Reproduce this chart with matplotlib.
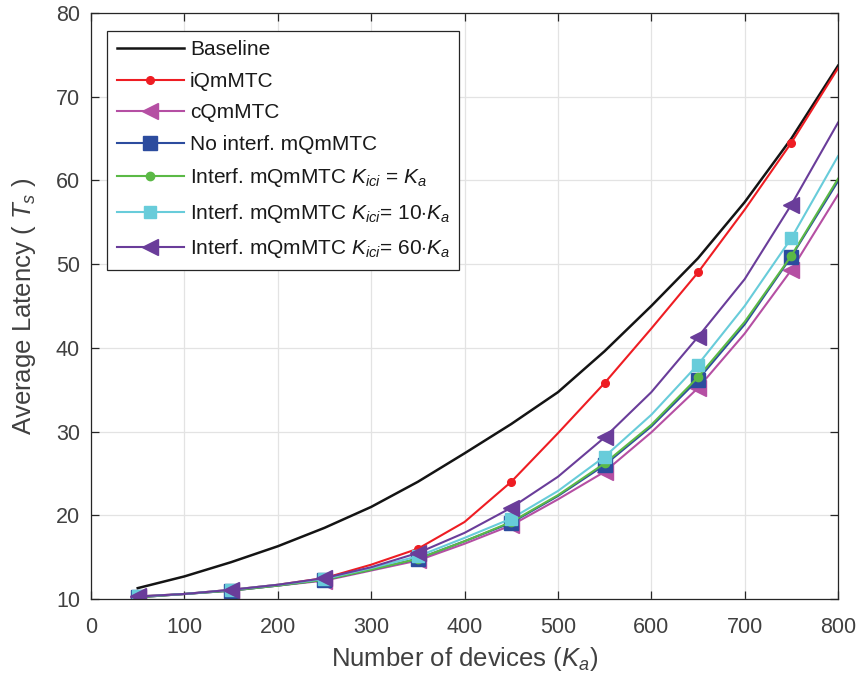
import matplotlib

matplotlib.use("Agg")
import matplotlib.pyplot as plt

plt.rcParams.update({
    "font.family": "Liberation Sans",
    "mathtext.fontset": "custom",
    "mathtext.rm": "Liberation Sans",
    "mathtext.it": "Liberation Sans:italic",
    "mathtext.bf": "Liberation Sans:bold",
})

# number of active devices K_a
devices = [50, 100, 150, 200, 250, 300, 350, 400, 450, 500, 550, 600, 650, 700, 750, 800]

# average latency in slots T_s
baseline = [11.3, 12.7, 14.4, 16.3, 18.5, 21.0, 24.0, 27.4, 30.9, 34.7, 39.6, 45.0, 50.7, 57.4, 65.0, 73.7]
iqmmtc = [10.3, 10.6, 11.1, 11.7, 12.5, 14.1, 16.0, 19.2, 24.0, 29.8, 35.8, 42.3, 49.0, 56.5, 64.5, 73.4]
cqmmtc = [10.2, 10.6, 11.0, 11.6, 12.2, 13.4, 14.6, 16.6, 18.8, 21.9, 25.2, 29.9, 35.2, 41.7, 49.3, 58.3]
no_interf = [10.2, 10.6, 11.0, 11.6, 12.3, 13.5, 14.8, 16.9, 19.1, 22.3, 26.0, 30.6, 36.2, 42.8, 50.9, 59.9]
interf_1 = [10.2, 10.6, 11.0, 11.6, 12.3, 13.5, 14.8, 16.9, 19.2, 22.4, 26.2, 30.8, 36.5, 43.1, 51.0, 60.2]
interf_10 = [10.3, 10.6, 11.1, 11.7, 12.4, 13.7, 15.1, 17.3, 19.6, 22.9, 27.0, 32.0, 38.0, 45.0, 53.1, 62.9]
interf_60 = [10.3, 10.6, 11.1, 11.7, 12.5, 13.8, 15.5, 17.9, 20.9, 24.6, 29.3, 34.7, 41.3, 48.2, 57.1, 66.9]

AX_COLOR = "#262626"
TICK_COLOR = "#404040"

fig = plt.figure(figsize=(8.59, 6.81), dpi=100, facecolor="white")
ax = fig.add_axes([0.106, 0.1204, 0.8696, 0.8606])

ax.plot(devices, baseline, color="#141414", lw=1.8, label="Baseline")
ax.plot(devices, iqmmtc, color="#EE1D23", lw=1.5, marker="o", ms=5.5, markevery=2,
        label="iQmMTC")
ax.plot(devices, cqmmtc, color="#B54FA3", lw=1.5, marker="<", ms=11, markevery=2,
        label="cQmMTC")
ax.plot(devices, no_interf, color="#2C4C9E", lw=1.5, marker="s", ms=10, markevery=2,
        label="No interf. mQmMTC")
ax.plot(devices, interf_1, color="#5BB946", lw=1.5, marker="o", ms=6, markevery=2,
        label=r"Interf. mQmMTC $K_{ici}$ = $K_a$")
ax.plot(devices, interf_10, color="#68CCDA", lw=1.5, marker="s", ms=8.5, markevery=2,
        label=r"Interf. mQmMTC $K_{ici}$= $\mathit{10}{\cdot}K_a$")
ax.plot(devices, interf_60, color="#6A3D9A", lw=1.5, marker="<", ms=11, markevery=2,
        label=r"Interf. mQmMTC $K_{ici}$= $\mathit{60}{\cdot}K_a$")

ax.set_xlim(0, 800)
ax.set_ylim(10, 80)
ax.set_xticks(range(0, 801, 100))
ax.set_yticks(range(10, 81, 10))
ax.grid(True, color="#E3E3E3", lw=0.9)
ax.set_axisbelow(True)
ax.tick_params(direction="in", top=True, right=True, length=6, width=0.9,
               colors=AX_COLOR, labelcolor=TICK_COLOR, labelsize=15.5)
ax.tick_params(axis="x", pad=13)
ax.tick_params(axis="y", pad=8)
for spine in ax.spines.values():
    spine.set_color(AX_COLOR)
    spine.set_linewidth(0.9)

ax.set_xlabel(r"Number of devices ($K_a$)", fontsize=18.5, color=TICK_COLOR, labelpad=5)
ax.set_ylabel(r"Average Latency ( $T_s$ )", fontsize=18.5, color=TICK_COLOR, labelpad=13)

leg = ax.legend(loc="upper left", bbox_to_anchor=(0.022, 0.969), borderaxespad=0,
                fontsize=15, handlelength=3.2, handletextpad=0.3, labelspacing=0.6,
                borderpad=0.45, fancybox=False, framealpha=1, edgecolor=AX_COLOR)
leg.get_frame().set_linewidth(0.9)
for text in leg.get_texts():
    text.set_color("#1A1A1A")

fig.savefig("out.png", dpi=100, facecolor="white")
